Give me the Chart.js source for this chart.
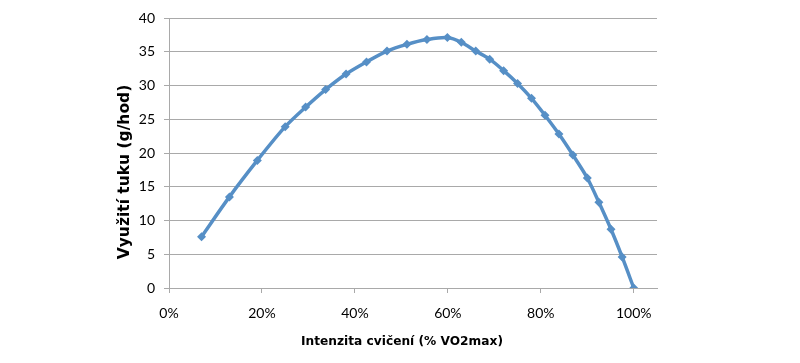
<!DOCTYPE html>
<html lang="cs">
  <head>
    <meta charset="utf-8">
    <title>Využití tuku</title>
    <script src="https://cdn.jsdelivr.net/npm/chart.js"></script>
    <style>
      html, body {
        margin: 0;
        padding: 0;
        background: #fff;
      }
      #wrap {
        width: 800px;
        height: 363px;
      }
    </style>
  </head>
  <body>
    <div id="wrap"><canvas id="fatChart"></canvas></div>
    <script>
      // Intenzita (podíl VO2max) a využití tuku (g/hod)
      const intensity = [0.07, 0.13, 0.19, 0.25, 0.294, 0.337, 0.381, 0.425, 0.469, 0.512, 0.555,
                         0.599, 0.629, 0.66, 0.69, 0.72, 0.75, 0.78, 0.809, 0.839, 0.869,
                         0.90, 0.925, 0.951, 0.975, 1.0];
      const fatUse = [7.6, 13.5, 18.9, 23.9, 26.8, 29.4, 31.7, 33.5, 35.1, 36.1, 36.8,
                      37.1, 36.4, 35.1, 33.9, 32.2, 30.3, 28.1, 25.6, 22.8, 19.7,
                      16.3, 12.7, 8.7, 4.6, 0];
      const xTicks = [0, 0.2, 0.4, 0.6, 0.8, 1.0];
      const yTicks = [0, 5, 10, 15, 20, 25, 30, 35, 40];
      const xTitle = "Intenzita cvičení (% VO2max)";
      const yTitle = "Využití tuku (g/hod)";

      const BLUE = "rgb(86, 143, 198)";
      const GRID = "#a9a9a9";
      const tickFont = { family: "Lato", size: 14 };

      // axis titles sit off-centre in the original, so draw them by hand
      const axisTitles = {
        id: "axisTitles",
        afterDraw(chart) {
          const { ctx, chartArea } = chart;
          ctx.save();
          ctx.fillStyle = "#000";
          ctx.textAlign = "center";
          ctx.textBaseline = "middle";
          ctx.font = "bold 12.2px 'DejaVu Sans'";
          ctx.fillText(xTitle, chartArea.left + 233, chartArea.bottom + 54);
          ctx.translate(chartArea.left - 44, chartArea.top + 154);
          ctx.rotate(-Math.PI / 2);
          ctx.font = "bold 15.5px 'DejaVu Sans'";
          ctx.fillText(yTitle, 0, 0);
          ctx.restore();
        }
      };

      new Chart(document.getElementById("fatChart").getContext("2d"), {
        type: "scatter",
        data: {
          datasets: [{
            data: intensity.map((x, i) => ({ x, y: fatUse[i] })),
            showLine: true,
            borderColor: BLUE,
            backgroundColor: BLUE,
            borderWidth: 3.5,
            tension: 0.3,
            pointStyle: "rectRot",
            pointRadius: 4.5,
            pointBorderWidth: 0,
          }]
        },
        options: {
          responsive: true,
          maintainAspectRatio: false,
          animation: false,
          layout: { padding: { top: 18, right: 143, left: 0, bottom: 0 } },
          plugins: { legend: { display: false }, tooltip: { enabled: false } },
          scales: {
            x: {
              type: "linear",
              min: 0,
              max: 1.05,
              afterBuildTicks: scale => { scale.ticks = xTicks.map(value => ({ value })); },
              afterFit: scale => { scale.height = 75; },
              grid: { drawOnChartArea: false, drawTicks: true, tickLength: 5, color: GRID },
              border: { color: GRID },
              ticks: {
                font: tickFont,
                color: "#000",
                padding: 12,
                callback: v => Math.round(v * 100) + "%"
              }
            },
            y: {
              min: 0,
              max: 40,
              afterBuildTicks: scale => { scale.ticks = yTicks.map(value => ({ value })); },
              afterFit: scale => { scale.width = 169; },
              grid: { color: GRID, tickLength: 5 },
              border: { color: GRID },
              ticks: { font: tickFont, color: "#000", padding: 9 }
            }
          }
        },
        plugins: [axisTitles]
      });
    </script>
  </body>
</html>
